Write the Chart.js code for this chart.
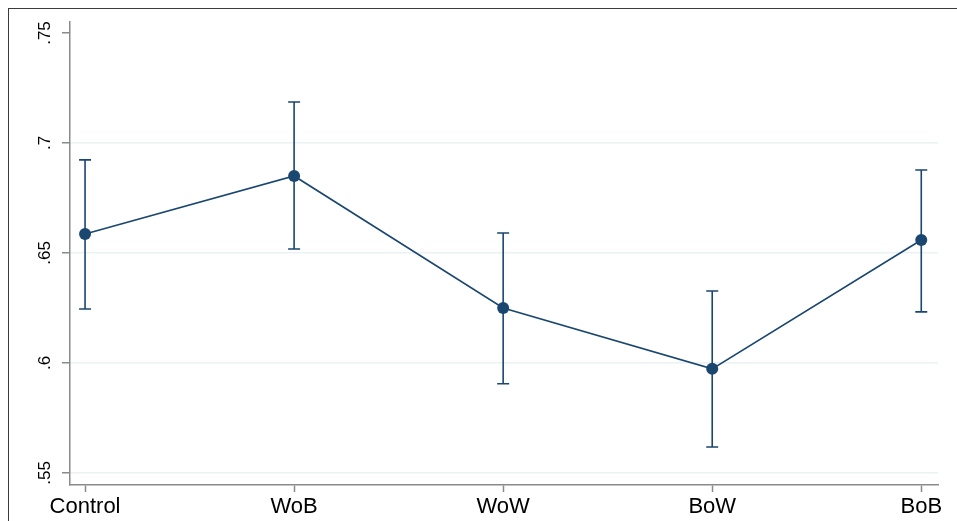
<!DOCTYPE html>
<html>
<head>
<meta charset="utf-8">
<script src="https://cdn.jsdelivr.net/npm/chart.js@4/dist/chart.umd.min.js"></script>
<style>
  html, body { margin: 0; padding: 0; background: #fff; }
  #frame { position: absolute; left: 8px; top: 8px; width: 960px; height: 520px;
           border-left: 1.5px solid #3a3a3a; border-top: 1.5px solid #3a3a3a; }
  #chart { position: absolute; left: 0; top: 0; }
</style>
</head>
<body>
<div id="frame"></div>
<canvas id="chart" width="957" height="521"></canvas>
<script>
// data
const groups = ["Control", "WoB", "WoW", "BoW", "BoB"];
const means = [0.6586, 0.6850, 0.6250, 0.5973, 0.6559];
const upper = [0.6923, 0.7186, 0.6591, 0.6327, 0.6877];
const lower = [0.6245, 0.6518, 0.5905, 0.5618, 0.6232];
const yTicks = [0.55, 0.6, 0.65, 0.7, 0.75];
const yTickLabels = [".55", ".6", ".65", ".7", ".75"];

const navy = "#1a476f";
const axisGray = "#8a8a8a";

/*error bars drawn through the scales*/
const errorBars = {
  id: "errorBars",
  beforeDatasetsDraw(chart) {
    const ctx = chart.ctx;
    const x = chart.scales.x, y = chart.scales.y;
    ctx.save();
    ctx.strokeStyle = navy;
    ctx.lineWidth = 1.6;
    for (let i = 0; i < groups.length; i++) {
      const px = x.getPixelForValue(i);
      const top = y.getPixelForValue(upper[i]);
      const bot = y.getPixelForValue(lower[i]);
      ctx.beginPath();
      ctx.moveTo(px, top); ctx.lineTo(px, bot);
      ctx.moveTo(px - 6, top); ctx.lineTo(px + 6, top);
      ctx.moveTo(px - 6, bot); ctx.lineTo(px + 6, bot);
      ctx.stroke();
    }
    ctx.restore();
  }
};

const config = {
  type: "line",
  data: {
    datasets: [{
      data: means.map((v, i) => ({ x: i, y: v })),
      borderColor: navy,
      borderWidth: 1.6,
      pointRadius: 6,
      pointBackgroundColor: navy,
      pointBorderWidth: 0,
      tension: 0
    }]
  },
  options: {
    responsive: false,
    animation: false,
    layout: { padding: { left: 0, top: 22, right: 19, bottom: 0 } },
    plugins: { legend: { display: false }, tooltip: { enabled: false } },
    scales: {
      x: {
        type: "linear",
        min: -0.072,
        max: 4.08,
        afterBuildTicks: (scale) => { scale.ticks = groups.map((g, i) => ({ value: i })); },
        afterFit: (scale) => { scale.height = 36; },
        ticks: {
          callback: (v) => groups[v],
          font: { family: "Liberation Sans", size: 22 },
          color: "#000",
          padding: 2,
          maxRotation: 0,
          autoSkip: false
        },
        grid: { drawOnChartArea: false, tickLength: 7, tickColor: axisGray, tickWidth: 1.5 },
        border: { color: axisGray, width: 1.5 }
      },
      y: {
        min: 0.5445,
        max: 0.755,
        afterBuildTicks: (scale) => { scale.ticks = yTicks.map(v => ({ value: v })); },
        afterFit: (scale) => { scale.width = 70; },
        ticks: {
          callback: (v) => yTickLabels[yTicks.indexOf(v)],
          font: { family: "Liberation Sans", size: 17 },
          color: "#000",
          minRotation: 90,
          maxRotation: 90,
          crossAlign: "center",
          padding: 5
        },
        grid: {
          color: (c) => (c.tick && c.tick.value > 0.74 ? "rgba(0,0,0,0)" : "#eaf2f3"),
          lineWidth: 1.5,
          tickLength: 8,
          tickColor: axisGray,
          tickWidth: 1.5
        },
        border: { color: axisGray, width: 1.5 }
      }
    }
  },
  plugins: [errorBars]
};

new Chart(document.getElementById("chart"), config);
</script>
</body>
</html>
